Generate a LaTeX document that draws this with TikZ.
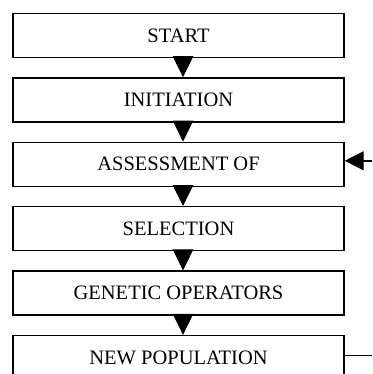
\documentclass[tikz,border=0pt]{standalone}
\usepackage{fontspec}
\setmainfont{Liberation Serif}
\usetikzlibrary{arrows.meta}
\usetikzlibrary{positioning}

\begin{document}
\begin{tikzpicture}[x=1pt,y=1pt,node distance=19pt,
                      main node/.style={draw,line width=1.4pt,minimum width=331pt,minimum height=44pt,
                                        inner sep=0pt,font=\fontsize{20.5}{24}\selectfont},
                      down arrow/.style={line width=1pt,-{Triangle[width=20.5pt,length=21pt]}},
                      back arrow/.style={line width=1.4pt,-{Triangle[width=19pt,length=19pt]}}]
        \useasboundingbox (0,0) rectangle (372,-374);

        \node[main node] (1) at (178.5,-35.5) {START};
        \node[main node] (2) [below=of 1] {INITIATION};
        \node[main node] (3) [below=of 2] {ASSESSMENT OF};
        \node[main node] (4) [below=of 3] {SELECTION};
        \node[main node] (5) [below=of 4] {GENETIC OPERATORS};
        \node[main node] (6) [below=of 5] {NEW POPULATION};

        \path[down arrow]
        ([xshift=4.5pt]1.south) edge ([xshift=4.5pt]2.north)
        ([xshift=4.5pt]2.south) edge ([xshift=4.5pt]3.north)
        ([xshift=4.5pt]3.south) edge ([xshift=4.5pt]4.north)
        ([xshift=4.5pt]4.south) edge ([xshift=4.5pt]5.north)
        ([xshift=4.5pt]5.south) edge ([xshift=4.5pt]6.north)
        ;

        % loop back, runs off the right edge
        \coordinate (edge) at (372,0);
        \coordinate (out) at ([yshift=2pt]6.east -| edge);
        \coordinate (in) at ([yshift=3.5pt]3.east -| edge);
        \draw[line width=1.4pt] ([yshift=2pt]6.east) -- (out);
        \draw[back arrow] (in) -- ([yshift=3.5pt]3.east);
\end{tikzpicture}
\end{document}
